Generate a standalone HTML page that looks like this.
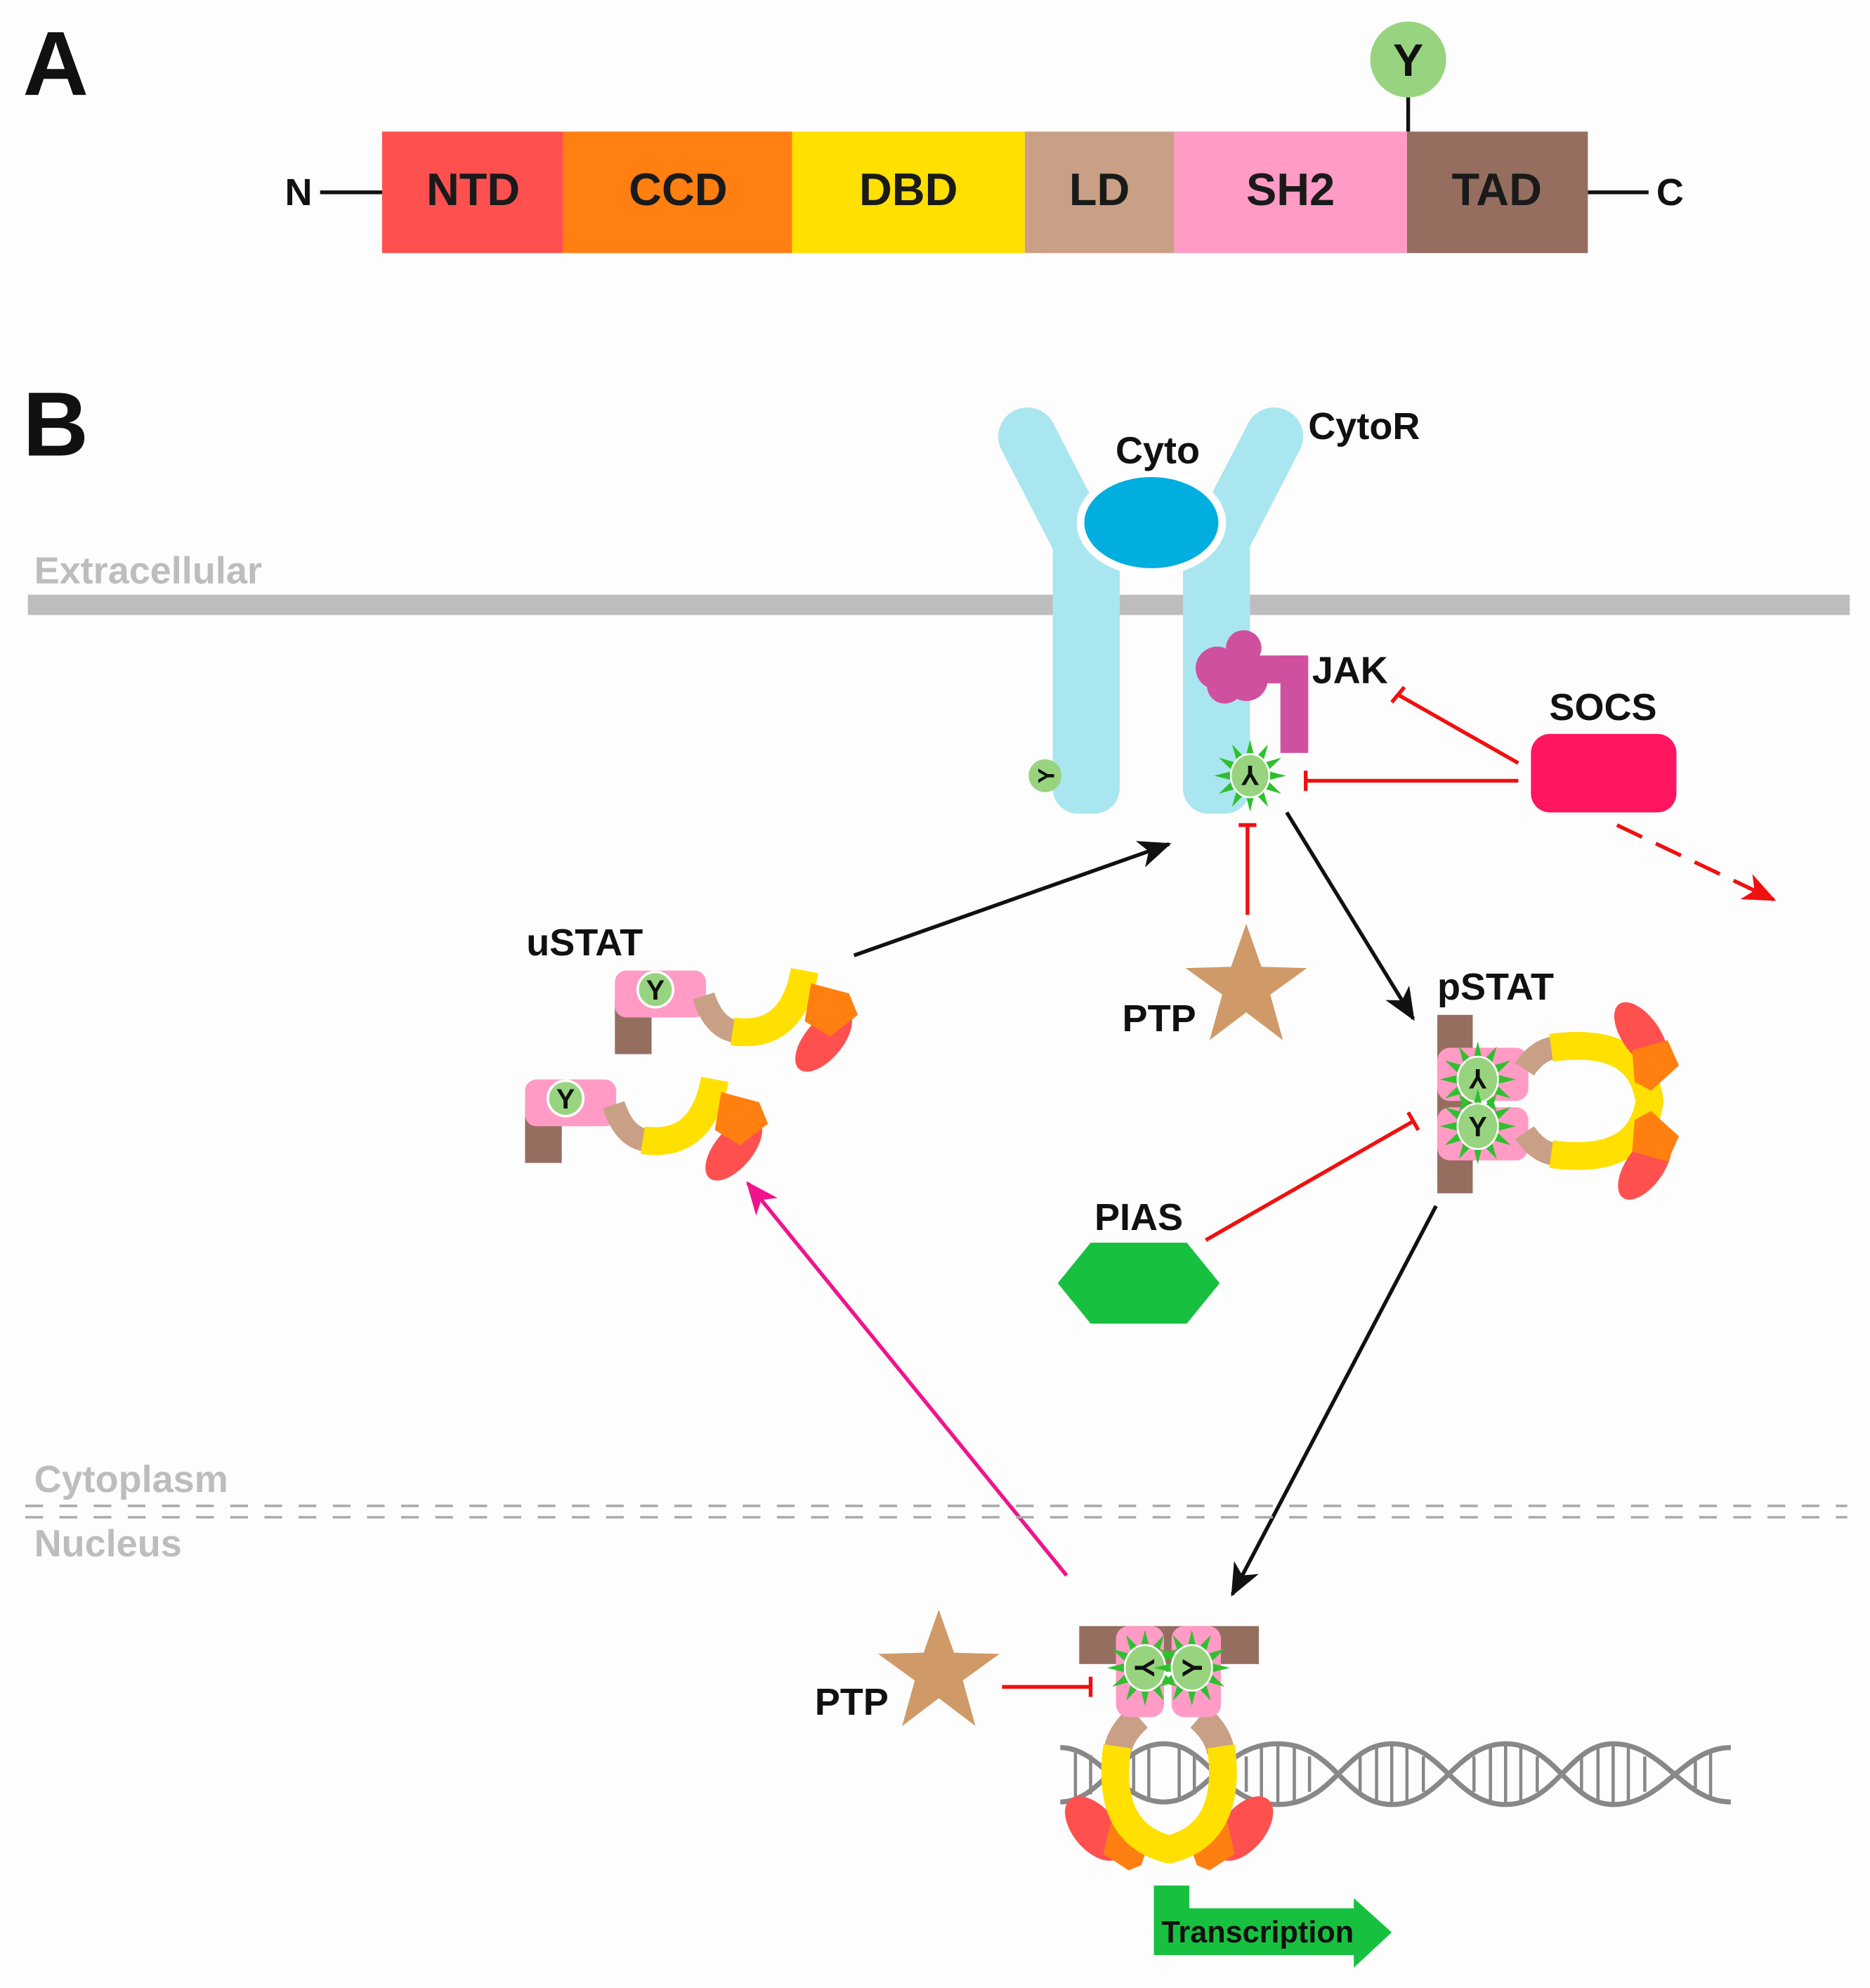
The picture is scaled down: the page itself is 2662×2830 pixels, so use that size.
<!DOCTYPE html>
<html><head><meta charset="utf-8"><style>
html,body{margin:0;padding:0;background:#fdfdfd;}
svg{display:block;}
text{font-family:"Liberation Sans",Arial,sans-serif;font-weight:bold;}
</style></head><body>
<svg width="2662" height="2830" viewBox="0 0 1478 1571" preserveAspectRatio="none" xmlns="http://www.w3.org/2000/svg">
<defs>
<g id="burst">
<polygon points="-4,-14 0,-30 4,-14" fill="#2EC02E"/>
<polygon points="-4,-14 0,-30 4,-14" fill="#2EC02E" transform="rotate(30)"/>
<polygon points="-4,-14 0,-30 4,-14" fill="#2EC02E" transform="rotate(60)"/>
<polygon points="-4,-14 0,-30 4,-14" fill="#2EC02E" transform="rotate(90)"/>
<polygon points="-4,-14 0,-30 4,-14" fill="#2EC02E" transform="rotate(120)"/>
<polygon points="-4,-14 0,-30 4,-14" fill="#2EC02E" transform="rotate(150)"/>
<polygon points="-4,-14 0,-30 4,-14" fill="#2EC02E" transform="rotate(180)"/>
<polygon points="-4,-14 0,-30 4,-14" fill="#2EC02E" transform="rotate(210)"/>
<polygon points="-4,-14 0,-30 4,-14" fill="#2EC02E" transform="rotate(240)"/>
<polygon points="-4,-14 0,-30 4,-14" fill="#2EC02E" transform="rotate(270)"/>
<polygon points="-4,-14 0,-30 4,-14" fill="#2EC02E" transform="rotate(300)"/>
<polygon points="-4,-14 0,-30 4,-14" fill="#2EC02E" transform="rotate(330)"/>
<ellipse cx="0" cy="0" rx="16" ry="18" fill="#98D480" stroke="#fff" stroke-width="1.5"/>
</g>
<marker id="ab" markerWidth="26" markerHeight="22" refX="24" refY="11" orient="auto" markerUnits="userSpaceOnUse" viewBox="0 0 26 22"><path d="M0,0 L26,11 L0,22 L7,11z" fill="#111"/></marker>
<marker id="ar" markerWidth="26" markerHeight="22" refX="24" refY="11" orient="auto" markerUnits="userSpaceOnUse" viewBox="0 0 26 22"><path d="M0,0 L26,11 L0,22 L7,11z" fill="#f01010"/></marker>
<marker id="ap" markerWidth="26" markerHeight="22" refX="24" refY="11" orient="auto" markerUnits="userSpaceOnUse" viewBox="0 0 26 22"><path d="M0,0 L26,11 L0,22 L7,11z" fill="#F0148C"/></marker>
<g id="star"><polygon points="0,-50 12,-16 48,-15 19,6 29,42 0,20 -29,42 -19,6 -48,-15 -12,-16" fill="#D09A68"/></g>
<g id="mono">
<rect x="0" y="23" width="29" height="43" fill="#956E60"/>
<rect x="0" y="0" width="72" height="37" rx="9" fill="#FF9BC5"/>
<circle cx="32" cy="15" r="14" fill="#98D480" stroke="#fff" stroke-width="2"/>
<text x="32" y="23" font-size="22" text-anchor="middle" fill="#111">Y</text>
<path d="M70,20 Q78,45 95,48" stroke="#C9A085" stroke-width="18" fill="none"/>
<path d="M93,48 Q140,55 150,0" stroke="#FFE000" stroke-width="22" fill="none"/>
<ellipse cx="165" cy="55" rx="15" ry="30" fill="#FF5050" transform="rotate(40 165 55)"/>
<path d="M155,10 L185,18 L192,35 L170,52 L150,40z" fill="#FF8010"/>
</g>
</defs>
<rect width="1478" height="1571" fill="#fdfdfd"/>
<text x="18" y="75" font-size="72" fill="#111">A</text>
<line x1="253" y1="152" x2="302" y2="152" stroke="#111" stroke-width="3"/>
<line x1="1255" y1="152" x2="1303" y2="152" stroke="#111" stroke-width="3"/>
<text x="236" y="162" font-size="30" text-anchor="middle" fill="#111">N</text>
<text x="1320" y="162" font-size="30" text-anchor="middle" fill="#111">C</text>
<line x1="1113" y1="70" x2="1113" y2="104" stroke="#111" stroke-width="3"/>
<circle cx="1113" cy="47" r="30" fill="#98D480"/>
<text x="1113" y="60" font-size="36" text-anchor="middle" fill="#111">Y</text>
<rect x="302" y="104" width="143" height="96" fill="#FF5050"/>
<rect x="445" y="104" width="181" height="96" fill="#FF8010"/>
<rect x="626" y="104" width="184" height="96" fill="#FFE000"/>
<rect x="810" y="104" width="118" height="96" fill="#C9A085"/>
<rect x="928" y="104" width="184" height="96" fill="#FF9BC5"/>
<rect x="1112" y="104" width="143" height="96" fill="#956E60"/>
<g font-size="36" text-anchor="middle" fill="#1a1a1a">
<text x="374" y="162">NTD</text><text x="536" y="162">CCD</text><text x="718" y="162">DBD</text>
<text x="869" y="162">LD</text><text x="1020" y="162">SH2</text><text x="1183" y="162">TAD</text></g>
<text x="18" y="360" font-size="72" fill="#111">B</text>
<text x="27" y="461" font-size="30" fill="#bdbdbd">Extracellular</text>
<rect x="22" y="470" width="1440" height="16" fill="#BDBDBD"/>
<g stroke="#AAE6F0" stroke-width="46" stroke-linecap="round" fill="none">
<line x1="812" y1="345" x2="856" y2="430"/>
<line x1="1007" y1="345" x2="963" y2="430"/>
</g>
<rect x="832" y="420" width="53" height="223" rx="20" fill="#AAE6F0"/>
<rect x="935" y="420" width="53" height="223" rx="20" fill="#AAE6F0"/>
<rect x="832" y="420" width="53" height="40" fill="#AAE6F0"/>
<rect x="935" y="420" width="53" height="40" fill="#AAE6F0"/>
<ellipse cx="910" cy="413" rx="56" ry="39" fill="#00AEE0" stroke="#fff" stroke-width="6"/>
<text x="915" y="366" font-size="30" text-anchor="middle" fill="#111">Cyto</text>
<text x="1034" y="347" font-size="30" fill="#111">CytoR</text>
<g fill="#D050A0">
<circle cx="983" cy="512" r="14"/><circle cx="962" cy="528" r="17"/><circle cx="985" cy="537" r="17"/><circle cx="968" cy="542" r="14"/>
<rect x="985" y="518" width="48" height="22"/><rect x="1012" y="518" width="22" height="77"/></g>
<text x="1037" y="540" font-size="30" fill="#111">JAK</text>
<circle cx="826" cy="613" r="13" fill="#98D480"/>
<text x="826" y="620" font-size="18" text-anchor="middle" fill="#111" transform="rotate(-90 826 613)">Y</text>
<use href="#burst" transform="translate(988,613) scale(0.95)"/>
<text x="988" y="621" font-size="22" text-anchor="middle" fill="#111" transform="rotate(180 988 613)">Y</text>
<rect x="1210" y="580" width="115" height="62" rx="15" fill="#FF1560"/>
<text x="1267" y="569" font-size="30" text-anchor="middle" fill="#111">SOCS</text>
<g stroke="#f01010" stroke-width="3" fill="none">
<line x1="1200" y1="603" x2="1105" y2="549"/><line x1="1100" y1="555" x2="1110" y2="543"/>
<line x1="1200" y1="617" x2="1032" y2="617"/><line x1="1032" y1="609" x2="1032" y2="625"/>
<line x1="1278" y1="652" x2="1402" y2="711" stroke-dasharray="22,12" marker-end="url(#ar)"/>
<line x1="986" y1="723" x2="986" y2="652"/><line x1="979" y1="652" x2="993" y2="652"/>
<line x1="953" y1="980" x2="1117" y2="886"/><line x1="1113" y1="879" x2="1121" y2="893"/>
<line x1="792" y1="1333" x2="862" y2="1333"/><line x1="862" y1="1325" x2="862" y2="1341"/>
</g>
<use href="#star" transform="translate(985,780)"/>
<text x="887" y="815" font-size="30" fill="#111">PTP</text>
<g stroke="#111" stroke-width="3" fill="none">
<line x1="675" y1="755" x2="924" y2="667" marker-end="url(#ab)"/>
<line x1="1017" y1="642" x2="1117" y2="805" marker-end="url(#ab)"/>
<line x1="1135" y1="953" x2="974" y2="1260" marker-end="url(#ab)"/>
</g>
<line x1="843" y1="1245" x2="591" y2="935" stroke="#F0148C" stroke-width="3" marker-end="url(#ap)"/>
<text x="416" y="755" font-size="30" fill="#111">uSTAT</text>
<use href="#mono" transform="translate(486,767)"/>
<use href="#mono" transform="translate(415,853)"/>
<text x="1136" y="790" font-size="30" fill="#111">pSTAT</text>
<rect x="1136" y="802" width="28" height="141" fill="#956E60"/>
<rect x="1136" y="828" width="72" height="42" rx="10" fill="#FF9BC5"/>
<rect x="1136" y="875" width="72" height="42" rx="10" fill="#FF9BC5"/>
<path d="M1205,845 Q1215,830 1228,828" stroke="#C9A085" stroke-width="18" fill="none"/>
<path d="M1205,895 Q1215,910 1228,912" stroke="#C9A085" stroke-width="18" fill="none"/>
<path d="M1226,828 Q1298,818 1304,872" stroke="#FFE000" stroke-width="22" fill="none"/>
<path d="M1226,912 Q1298,922 1304,868" stroke="#FFE000" stroke-width="22" fill="none"/>
<ellipse cx="1297" cy="818" rx="15" ry="30" fill="#FF5050" transform="rotate(-35 1297 818)"/>
<ellipse cx="1300" cy="922" rx="15" ry="30" fill="#FF5050" transform="rotate(35 1300 922)"/>
<path d="M1290,830 L1318,822 L1327,842 L1305,862 L1292,855z" fill="#FF8010"/>
<path d="M1290,910 L1318,918 L1327,898 L1305,878 L1292,885z" fill="#FF8010"/>
<use href="#burst" transform="translate(1168,853)"/>
<use href="#burst" transform="translate(1168,890)"/>
<text x="1168" y="861" font-size="22" text-anchor="middle" fill="#111" transform="rotate(180 1168 853)">Y</text>
<text x="1168" y="898" font-size="22" text-anchor="middle" fill="#111">Y</text>
<polygon points="836,1014 862,982 938,982 964,1014 938,1046 862,1046" fill="#18C040"/>
<text x="900" y="972" font-size="30" text-anchor="middle" fill="#111">PIAS</text>
<text x="27" y="1179" font-size="30" fill="#bdbdbd">Cytoplasm</text>
<line x1="20" y1="1190" x2="1460" y2="1190" stroke="#aaa" stroke-width="2" stroke-dasharray="14,13"/>
<line x1="20" y1="1199" x2="1460" y2="1199" stroke="#aaa" stroke-width="2" stroke-dasharray="14,13"/>
<text x="27" y="1230" font-size="30" fill="#bdbdbd">Nucleus</text>
<g stroke="#888" stroke-width="4" fill="none">
<path d="M838,1381 C870,1381 885,1424 920,1424 C955,1424 965,1378 1010,1378 C1055,1378 1062,1426 1100,1426 C1140,1426 1150,1378 1190,1378 C1230,1378 1240,1426 1275,1426 C1315,1426 1330,1381 1368,1381"/>
<path d="M838,1424 C870,1424 885,1378 920,1378 C955,1378 965,1426 1010,1426 C1055,1426 1062,1378 1100,1378 C1140,1378 1150,1426 1190,1426 C1230,1426 1240,1378 1275,1378 C1315,1378 1330,1424 1368,1424"/>
</g>
<g stroke="#888" stroke-width="2.5">
<line x1="850" y1="1385" x2="850" y2="1420"/><line x1="862" y1="1387" x2="862" y2="1418"/><line x1="896" y1="1387" x2="896" y2="1418"/><line x1="908" y1="1382" x2="908" y2="1422"/><line x1="932" y1="1382" x2="932" y2="1422"/><line x1="944" y1="1387" x2="944" y2="1418"/>
<line x1="985" y1="1388" x2="985" y2="1416"/><line x1="997" y1="1381" x2="997" y2="1423"/><line x1="1010" y1="1379" x2="1010" y2="1425"/><line x1="1023" y1="1381" x2="1023" y2="1423"/><line x1="1035" y1="1388" x2="1035" y2="1416"/>
<line x1="1075" y1="1388" x2="1075" y2="1416"/><line x1="1088" y1="1381" x2="1088" y2="1423"/><line x1="1100" y1="1379" x2="1100" y2="1425"/><line x1="1112" y1="1381" x2="1112" y2="1423"/><line x1="1125" y1="1388" x2="1125" y2="1416"/>
<line x1="1165" y1="1388" x2="1165" y2="1416"/><line x1="1178" y1="1381" x2="1178" y2="1423"/><line x1="1190" y1="1379" x2="1190" y2="1425"/><line x1="1202" y1="1381" x2="1202" y2="1423"/><line x1="1215" y1="1388" x2="1215" y2="1416"/>
<line x1="1250" y1="1388" x2="1250" y2="1416"/><line x1="1263" y1="1381" x2="1263" y2="1423"/><line x1="1275" y1="1379" x2="1275" y2="1425"/><line x1="1287" y1="1381" x2="1287" y2="1423"/><line x1="1300" y1="1388" x2="1300" y2="1416"/>
<line x1="1340" y1="1390" x2="1340" y2="1414"/><line x1="1352" y1="1385" x2="1352" y2="1420"/></g>
<path d="M900,1357 Q885,1370 883,1385" stroke="#C9A085" stroke-width="22" fill="none"/>
<path d="M948,1357 Q963,1370 965,1385" stroke="#C9A085" stroke-width="22" fill="none"/>
<ellipse cx="865" cy="1445" rx="17" ry="30" fill="#FF5050" transform="rotate(-40 865 1445)"/>
<ellipse cx="983" cy="1445" rx="17" ry="30" fill="#FF5050" transform="rotate(40 983 1445)"/>
<path d="M878,1440 L912,1445 L902,1474 L892,1478 L872,1465z" fill="#FF8010"/>
<path d="M970,1440 L936,1445 L946,1474 L956,1478 L976,1465z" fill="#FF8010"/>
<path d="M883,1380 Q873,1450 926,1462" stroke="#FFE000" stroke-width="22" fill="none"/>
<path d="M965,1380 Q975,1450 922,1462" stroke="#FFE000" stroke-width="22" fill="none"/>
<rect x="853" y="1285" width="142" height="30" fill="#956E60"/>
<rect x="882" y="1285" width="38" height="72" rx="10" fill="#FF9BC5"/>
<rect x="926" y="1285" width="39" height="72" rx="10" fill="#FF9BC5"/>
<use href="#burst" transform="translate(905,1318)"/>
<use href="#burst" transform="translate(942,1318)"/>
<text x="905" y="1326" font-size="22" text-anchor="middle" fill="#111" transform="rotate(90 905 1318)">Y</text>
<text x="942" y="1326" font-size="22" text-anchor="middle" fill="#111" transform="rotate(-90 942 1318)">Y</text>
<use href="#star" transform="translate(742,1322)"/>
<text x="644" y="1355" font-size="30" fill="#111">PTP</text>
<polygon points="912,1490 940,1490 940,1508 1070,1508 1070,1500 1100,1527 1070,1555 1070,1545 912,1545" fill="#18C040"/>
<text x="918" y="1535" font-size="24" fill="#111">Transcription</text>
</svg>
</body></html>
